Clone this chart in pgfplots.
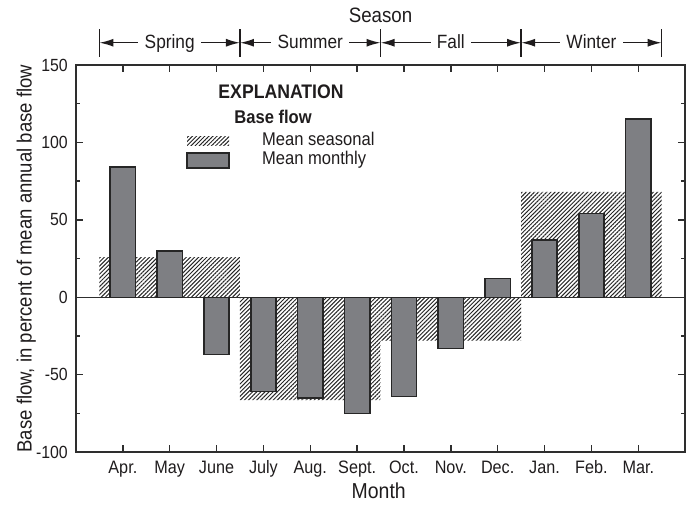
\documentclass[border=0pt]{standalone}
\usepackage{pgfplots}
\pgfplotsset{compat=1.18}
\usepackage{fontspec}
\setmainfont{Liberation Sans}[FakeStretch=0.9]
\usetikzlibrary{patterns.meta,arrows.meta}

\definecolor{barfill}{HTML}{7E7F83}
\definecolor{barline}{HTML}{262626}
\definecolor{axiscol}{HTML}{2E2E2E}
\definecolor{ink}{HTML}{1F1C1D}
\definecolor{hatch}{HTML}{262626}

\newcommand\fs[1]{\fontsize{#1}{#1}\selectfont}

% monthly mean base flow, percent of mean annual base flow (Apr. = 0 ... Mar. = 11)
\pgfplotstableread{
x   y
0   84
1   30
2  -37
3  -61
4  -65
5  -75
6  -64
7  -33
8   12
9   37
10  54
11  115
}\monthly

% seasonal means, centred on the middle month of each season
\pgfplotstableread{
x   y
1   26
4  -66.5
7  -28
10  68
}\seasonal

\tikzset{
  seasonarrow/.style={line width=0.75pt, draw=ink,
    {Latex[length=7pt,width=4pt]}-{Latex[length=7pt,width=4pt]}},
  seasonlabel/.style={fill=white, inner xsep=3.2pt, inner ysep=1pt,
    anchor=base, text=ink, font=\fs{9.6pt}},
  hatchfill/.style={pattern={Lines[angle=45,distance=1.45pt,line width=0.5pt]},
    pattern color=hatch},
}

\begin{document}
\begin{tikzpicture}
\begin{axis}[
  scale only axis, width=304.5pt, height=193.5pt,
  xmin=-1, xmax=12, ymin=-100, ymax=150,
  axis line style={axiscol, line width=0.75pt},
  xtick={0,...,11},
  xticklabels={Apr.,May,June,July,Aug.,Sept.,Oct.,Nov.,Dec.,Jan.,Feb.,Mar.},
  ytick={-100,-50,0,50,100,150},
  yticklabels={-100,-50,0,50,100,150},
  minor y tick num=1,
  tick align=inside,
  major tick length=3.5pt, minor tick length=2.2pt,
  tick style={axiscol, line width=0.7pt},
  xticklabel style={font=\fs{9pt}, text=ink, anchor=base, yshift=-10.8pt},
  yticklabel style={font=\fs{8.8pt}, text=ink, anchor=east, xshift=-0.6pt},
  xlabel={Month},
  xlabel style={font=\fs{10.8pt}, text=ink, at={(axis description cs:0.497,-0.119)}, anchor=base},
  ylabel={Base flow, in percent of mean annual base flow},
  ylabel style={font=\fs{10.3pt}, text=ink, at={(axis description cs:-0.0727,0.5)}, anchor=base},
  clip=false,
]
% seasonal means: hatched blocks three months wide
\addplot[ybar, bar width=3, bar shift=0pt, draw=none, hatchfill]
  table[x=x,y=y]{\seasonal};

% zero line
\draw[axiscol, line width=0.7pt] (axis cs:-1,0) -- (axis cs:12,0);

% monthly means
\addplot[ybar, bar width=0.54, bar shift=0pt, fill=barfill, draw=barline, line width=0.75pt]
  table[x=x,y=y]{\monthly};

% season header above the plot
\node[anchor=base, text=ink, font=\fs{10.4pt}] at (axis description cs:0.5,1.109) {Season};
\draw[ink, line width=0.75pt]
  (axis cs:-0.5,155.2) -- (axis cs:-0.5,173.3)
  (axis cs:2.5,155.2)  -- (axis cs:2.5,173.3)
  (axis cs:5.5,155.2)  -- (axis cs:5.5,173.3)
  (axis cs:8.5,155.2)  -- (axis cs:8.5,173.3)
  (axis cs:11.5,155.2) -- (axis cs:11.5,173.3);
\draw[seasonarrow] (axis cs:-0.5,164.4) -- (axis cs:2.5,164.4);
\draw[seasonarrow] (axis cs:2.5,164.4)  -- (axis cs:5.5,164.4);
\draw[seasonarrow] (axis cs:5.5,164.4)  -- (axis cs:8.5,164.4);
\draw[seasonarrow] (axis cs:8.5,164.4)  -- (axis cs:11.5,164.4);
\node[seasonlabel] at (axis cs:1,160.8)  {Spring};
\node[seasonlabel] at (axis cs:4,160.8)  {Summer};
\node[seasonlabel] at (axis cs:7,160.8)  {Fall};
\node[seasonlabel] at (axis cs:10,160.8) {Winter};

% explanation
\node[anchor=base, text=ink, font=\bfseries\fs{9.8pt}] at (axis cs:3.376,128.5) {EXPLANATION};
\node[anchor=base west, inner sep=0pt, text=ink, font=\bfseries\fs{9.2pt}] at (axis cs:2.372,112.3) {Base flow};
\fill[hatchfill] (axis cs:1.371,98.3) rectangle (axis cs:2.268,104.1);
\draw[fill=barfill, draw=barline, line width=0.75pt]
  (axis cs:1.371,83.5) rectangle (axis cs:2.268,93.2);
\node[anchor=base west, inner sep=0pt, text=ink, font=\fs{9.2pt}] at (axis cs:2.964,98.3) {Mean seasonal};
\node[anchor=base west, inner sep=0pt, text=ink, font=\fs{9.2pt}] at (axis cs:2.964,85.8) {Mean monthly};

% page extent
\path (axis cs:-2.622,-131) rectangle (axis cs:12.04,192);
\end{axis}
\end{tikzpicture}
\end{document}
